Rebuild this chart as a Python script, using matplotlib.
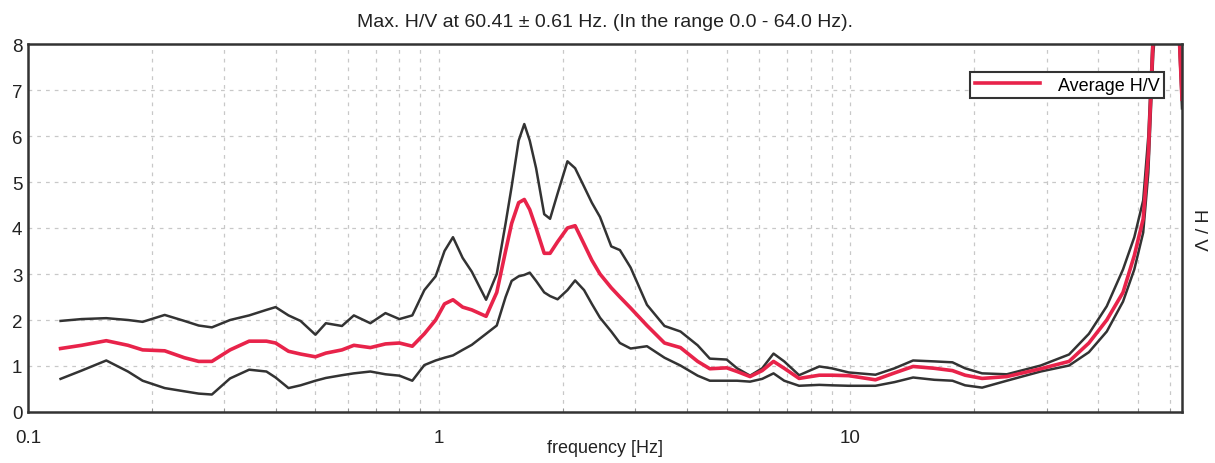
import matplotlib
matplotlib.use("Agg")
import matplotlib.pyplot as plt
from matplotlib.ticker import FixedLocator, NullFormatter, LogLocator
from matplotlib import font_manager

freq = [0.12, 0.135, 0.155, 0.175, 0.19, 0.215, 0.24, 0.26, 0.28, 0.31, 0.345, 0.38, 0.40, 0.43,
        0.46, 0.50, 0.53, 0.58, 0.62, 0.68, 0.74, 0.80, 0.86, 0.92, 0.98, 1.03, 1.08, 1.14, 1.20,
        1.30, 1.38, 1.45, 1.50, 1.56, 1.61, 1.66, 1.72, 1.80, 1.86, 1.94, 2.05, 2.14, 2.25, 2.35,
        2.46, 2.62, 2.75, 2.92, 3.2, 3.53, 3.86, 4.25, 4.55, 5.0, 5.3, 5.7, 6.1, 6.5, 6.9, 7.5,
        8.4, 9.0, 9.9, 11.5, 12.8, 14.2, 16.0, 17.7, 19.0, 20.9, 24.0, 29.0, 34.0, 38.0, 42.0,
        46.0, 49.0, 51.5, 53.0, 54.5, 56.5, 58.5, 60.4, 62.0, 63.0, 64.0]

hv_upper = [1.98, 2.02, 2.04, 2.0, 1.96, 2.11, 1.98, 1.88, 1.84, 2.0, 2.1, 2.22, 2.28, 2.1,
            1.98, 1.68, 1.93, 1.87, 2.1, 1.93, 2.15, 2.02, 2.1, 2.65, 2.95, 3.5, 3.8, 3.35, 3.05,
            2.44, 3.0, 4.1, 4.9, 5.9, 6.26, 5.9, 5.3, 4.3, 4.2, 4.75, 5.45, 5.3, 4.9, 4.55,
            4.24, 3.6, 3.52, 3.14, 2.33, 1.87, 1.75, 1.45, 1.16, 1.14, 0.95, 0.79, 0.95, 1.27, 1.1, 0.8,
            0.99, 0.95, 0.86, 0.81, 0.95, 1.12, 1.1, 1.08, 0.95, 0.84, 0.82, 1.01, 1.25, 1.7, 2.3,
            3.1, 3.8, 4.6, 6.0, 8.5, 10.0, 11.0, 11.5, 10.0, 8.5, 7.0]

hv_average = [1.38, 1.45, 1.55, 1.45, 1.35, 1.33, 1.18, 1.1, 1.1, 1.35, 1.54, 1.54, 1.5, 1.32,
              1.26, 1.2, 1.28, 1.35, 1.45, 1.4, 1.48, 1.5, 1.43, 1.7, 2.0, 2.35, 2.44, 2.28, 2.22,
              2.08, 2.6, 3.5, 4.1, 4.55, 4.62, 4.4, 4.0, 3.45, 3.45, 3.7, 4.0, 4.05, 3.65, 3.3,
              3.0, 2.7, 2.5, 2.26, 1.88, 1.5, 1.4, 1.1, 0.94, 0.96, 0.88, 0.77, 0.9, 1.1, 0.95, 0.73,
              0.8, 0.8, 0.79, 0.7, 0.85, 0.99, 0.95, 0.9, 0.8, 0.73, 0.77, 0.94, 1.1, 1.5, 2.0,
              2.6, 3.4, 4.2, 5.6, 8.2, 9.7, 10.6, 11.0, 9.6, 8.2, 6.8]

hv_lower = [0.72, 0.9, 1.12, 0.88, 0.68, 0.52, 0.45, 0.4, 0.38, 0.73, 0.92, 0.88, 0.75, 0.52,
            0.58, 0.68, 0.74, 0.8, 0.84, 0.88, 0.82, 0.79, 0.68, 1.02, 1.12, 1.18, 1.23, 1.35, 1.46,
            1.7, 1.88, 2.5, 2.85, 2.95, 2.98, 3.03, 2.85, 2.6, 2.52, 2.45, 2.65, 2.86, 2.65, 2.35,
            2.05, 1.75, 1.5, 1.38, 1.43, 1.18, 1.01, 0.79, 0.68, 0.68, 0.68, 0.66, 0.72, 0.84, 0.68, 0.57,
            0.59, 0.58, 0.57, 0.57, 0.65, 0.75, 0.7, 0.68, 0.58, 0.53, 0.68, 0.88, 1.01, 1.3, 1.75,
            2.4, 3.1, 3.9, 5.2, 7.8, 9.4, 10.3, 10.7, 9.3, 8.0, 6.6]

x_ticks = [0.1, 1, 10]
x_tick_labels = ["0.1", "1", "10"]
y_ticks = [0, 1, 2, 3, 4, 5, 6, 7, 8]

title = "Max. H/V at 60.41 \u00b1 0.61 Hz. (In the range 0.0 - 64.0 Hz)."

names = {f.name for f in font_manager.fontManager.ttflist}
fam = "Liberation Sans Narrow" if "Liberation Sans Narrow" in names else "Liberation Sans"
plt.rcParams['font.family'] = [fam, 'DejaVu Sans']

fig = plt.figure(figsize=(12.15, 4.64), dpi=100)
ax_l, ax_r, ax_t, ax_b = 28, 1182, 45, 413
ax = fig.add_axes([ax_l/1215, (464-ax_b)/464, (ax_r-ax_l)/1215, (ax_b-ax_t)/464])

dark = "#333333"
ax.plot(freq, hv_upper, color=dark, lw=1.8)
ax.plot(freq, hv_lower, color=dark, lw=1.8)
ax.plot(freq, hv_average, color="#e8234a", lw=2.6, label="Average H/V")

ax.set_xscale("log")
ax.set_xlim(0.1, 64)
ax.set_ylim(0, 8)
ax.xaxis.set_major_locator(FixedLocator(x_ticks))
ax.set_xticklabels(x_tick_labels)
ax.xaxis.set_minor_locator(LogLocator(base=10, subs=range(2, 10)))
ax.xaxis.set_minor_formatter(NullFormatter())
ax.set_yticks(y_ticks)

ax.grid(True, which="both", axis="x", color="#c8c8c8", ls=(0, (3, 4)), lw=0.9)
ax.grid(True, which="major", axis="y", color="#c8c8c8", ls=(0, (3, 4)), lw=0.9)

for s in ax.spines.values():
    s.set_color(dark)
    s.set_linewidth(1.8)

ax.tick_params(axis="y", which="major", direction="in", length=0, labelsize=13.5, colors="#222222", pad=4)
ax.tick_params(axis="x", which="major", direction="in", length=0, labelsize=13.5, colors="#222222", pad=12)
ax.tick_params(axis="x", which="minor", direction="in", length=3, color="#888888")

ax.set_xlabel("frequency [Hz]", fontsize=13, color="#222222")
ax.xaxis.set_label_coords(0.5, (ax_b - 449) / (ax_b - ax_t))
ax.xaxis.label.set_va("center")
ax.set_title(title, fontsize=14, color="#222222", pad=13)

fig.text(1199/1215, 1 - 230/464, "H / V", rotation=-90, ha="center", va="center", fontsize=13.5, color="#222222")

leg = ax.legend(loc="upper right", bbox_to_anchor=((1164 - ax_l) / (ax_r - ax_l), 1 - (73 - ax_t) / (ax_b - ax_t)),
                bbox_transform=ax.transAxes, fontsize=13, frameon=True, fancybox=False,
                handlelength=3.6, borderpad=0.25, borderaxespad=0, handletextpad=1.0)
leg.get_frame().set_edgecolor(dark)
leg.get_frame().set_linewidth(1.5)
leg.get_frame().set_alpha(1)

fig.savefig("out.png", dpi=100)
